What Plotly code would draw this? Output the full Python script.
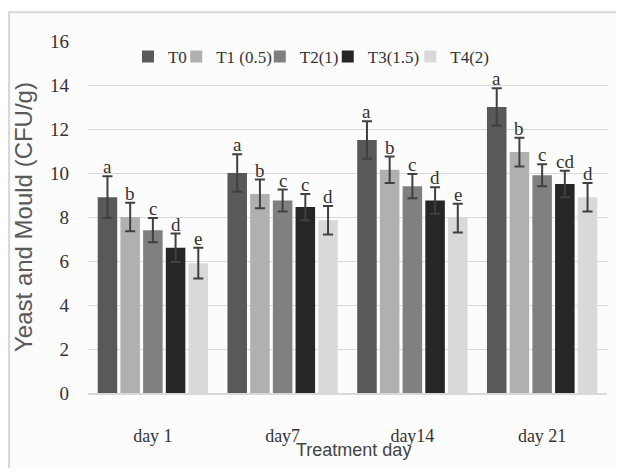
import plotly.graph_objects as go

categories = ["day 1", "day7", "day14", "day 21"]
series_names = ["T0", "T1 (0.5)", "T2(1)", "T3(1.5)", "T4(2)"]
values = {
    "T0": [8.9, 10.0, 11.5, 13.0],
    "T1 (0.5)": [8.0, 9.05, 10.15, 10.95],
    "T2(1)": [7.4, 8.75, 9.4, 9.9],
    "T3(1.5)": [6.6, 8.45, 8.75, 9.5],
    "T4(2)": [5.9, 7.85, 7.95, 8.9],
}
errors = {
    "T0": [0.95, 0.85, 0.85, 0.85],
    "T1 (0.5)": [0.65, 0.65, 0.6, 0.65],
    "T2(1)": [0.55, 0.5, 0.55, 0.5],
    "T3(1.5)": [0.65, 0.6, 0.6, 0.6],
    "T4(2)": [0.7, 0.65, 0.65, 0.65],
}
letters = {
    "T0": ["a", "a", "a", "a"],
    "T1 (0.5)": ["b", "b", "b", "b"],
    "T2(1)": ["c", "c", "c", "c"],
    "T3(1.5)": ["d", "c", "d", "cd"],
    "T4(2)": ["e", "d", "e", "d"],
}
colors = ["#595959", "#b0b0b0", "#808080", "#262626", "#d9d9d9"]
y_ticks = [0, 2, 4, 6, 8, 10, 12, 14, 16]

serif = "Liberation Serif, Times New Roman, serif"
legend_ids = ["legend", "legend2", "legend3", "legend4", "legend5"]
legend_x = [0.077, 0.170, 0.331, 0.462, 0.621]

fig = go.Figure()
for name, col, lid in zip(series_names, colors, legend_ids):
    fig.add_trace(go.Bar(
        name=name,
        x=categories,
        y=values[name],
        legend=lid,
        marker=dict(color=col, line=dict(width=0)),
        error_y=dict(type="data", array=errors[name], color="#404040",
                     thickness=2, width=5),
    ))

bargap = 0.125
slot = (1 - bargap) / len(series_names)
annotations = []
for j, name in enumerate(series_names):
    off = (j - (len(series_names) - 1) / 2) * slot
    for i, cat in enumerate(categories):
        annotations.append(dict(
            x=i + off, y=values[name][i] + errors[name][i],
            xref="x", yref="y", text=letters[name][i], showarrow=False,
            yanchor="bottom", borderpad=0, yshift=-2,
            font=dict(family=serif, size=19, color="#333333"),
        ))

# x-axis title, sitting just under the category labels as in the original
annotations.append(dict(
    x=0.511, y=-0.162, xref="paper", yref="paper", text="Treatment day",
    showarrow=False, xanchor="center", yanchor="middle",
    font=dict(family="Liberation Sans, Arial", size=18, color="#444444"),
))

legend_common = dict(orientation="h", yanchor="middle", y=0.955, xanchor="left",
                     bgcolor="rgba(0,0,0,0)", borderwidth=0,
                     font=dict(family=serif, size=17, color="#333333"),
                     itemwidth=30)
layout_legends = {}
for lid, lx in zip(legend_ids, legend_x):
    layout_legends[lid] = dict(legend_common, x=lx)

fig.update_layout(
    width=608, height=460,
    margin=dict(l=80, r=9, t=33, b=75),
    paper_bgcolor="#fcfcfc",
    plot_bgcolor="rgba(0,0,0,0)",
    barmode="group",
    bargap=bargap,
    bargroupgap=0.14,
    showlegend=True,
    annotations=annotations,
    shapes=[dict(type="rect", xref="paper", yref="paper",
                 x0=-0.152, x1=1.06, y0=-0.3, y1=1.082,
                 line=dict(color="#d6d6d6", width=2), fillcolor="#fcfcfc", layer="below"),
            dict(type="rect", xref="paper", yref="paper",
                 x0=-0.2, x1=1.1, y0=1.088, y1=1.2,
                 line=dict(width=0), fillcolor="#ffffff", layer="below")],
    xaxis=dict(
        type="category",
        automargin=False,
        showgrid=False,
        showline=True, linecolor="#d9d9d9", linewidth=2,
        ticks="", ticklabelstandoff=25,
        tickfont=dict(family=serif, size=18, color="#333333"),
    ),
    yaxis=dict(
        automargin=False,
        range=[0, 16],
        tickvals=y_ticks,
        showgrid=True, gridcolor="#d9d9d9", gridwidth=1,
        zeroline=False, showline=False, ticks="",
        ticklabelstandoff=18,
        tickfont=dict(family=serif, size=19, color="#333333"),
        title=dict(text="Yeast and Mould (CFU/g)", standoff=10,
                   font=dict(family="Liberation Sans, Arial", size=24, color="#595959")),
    ),
    **layout_legends,
)

fig.write_html("out.html")
